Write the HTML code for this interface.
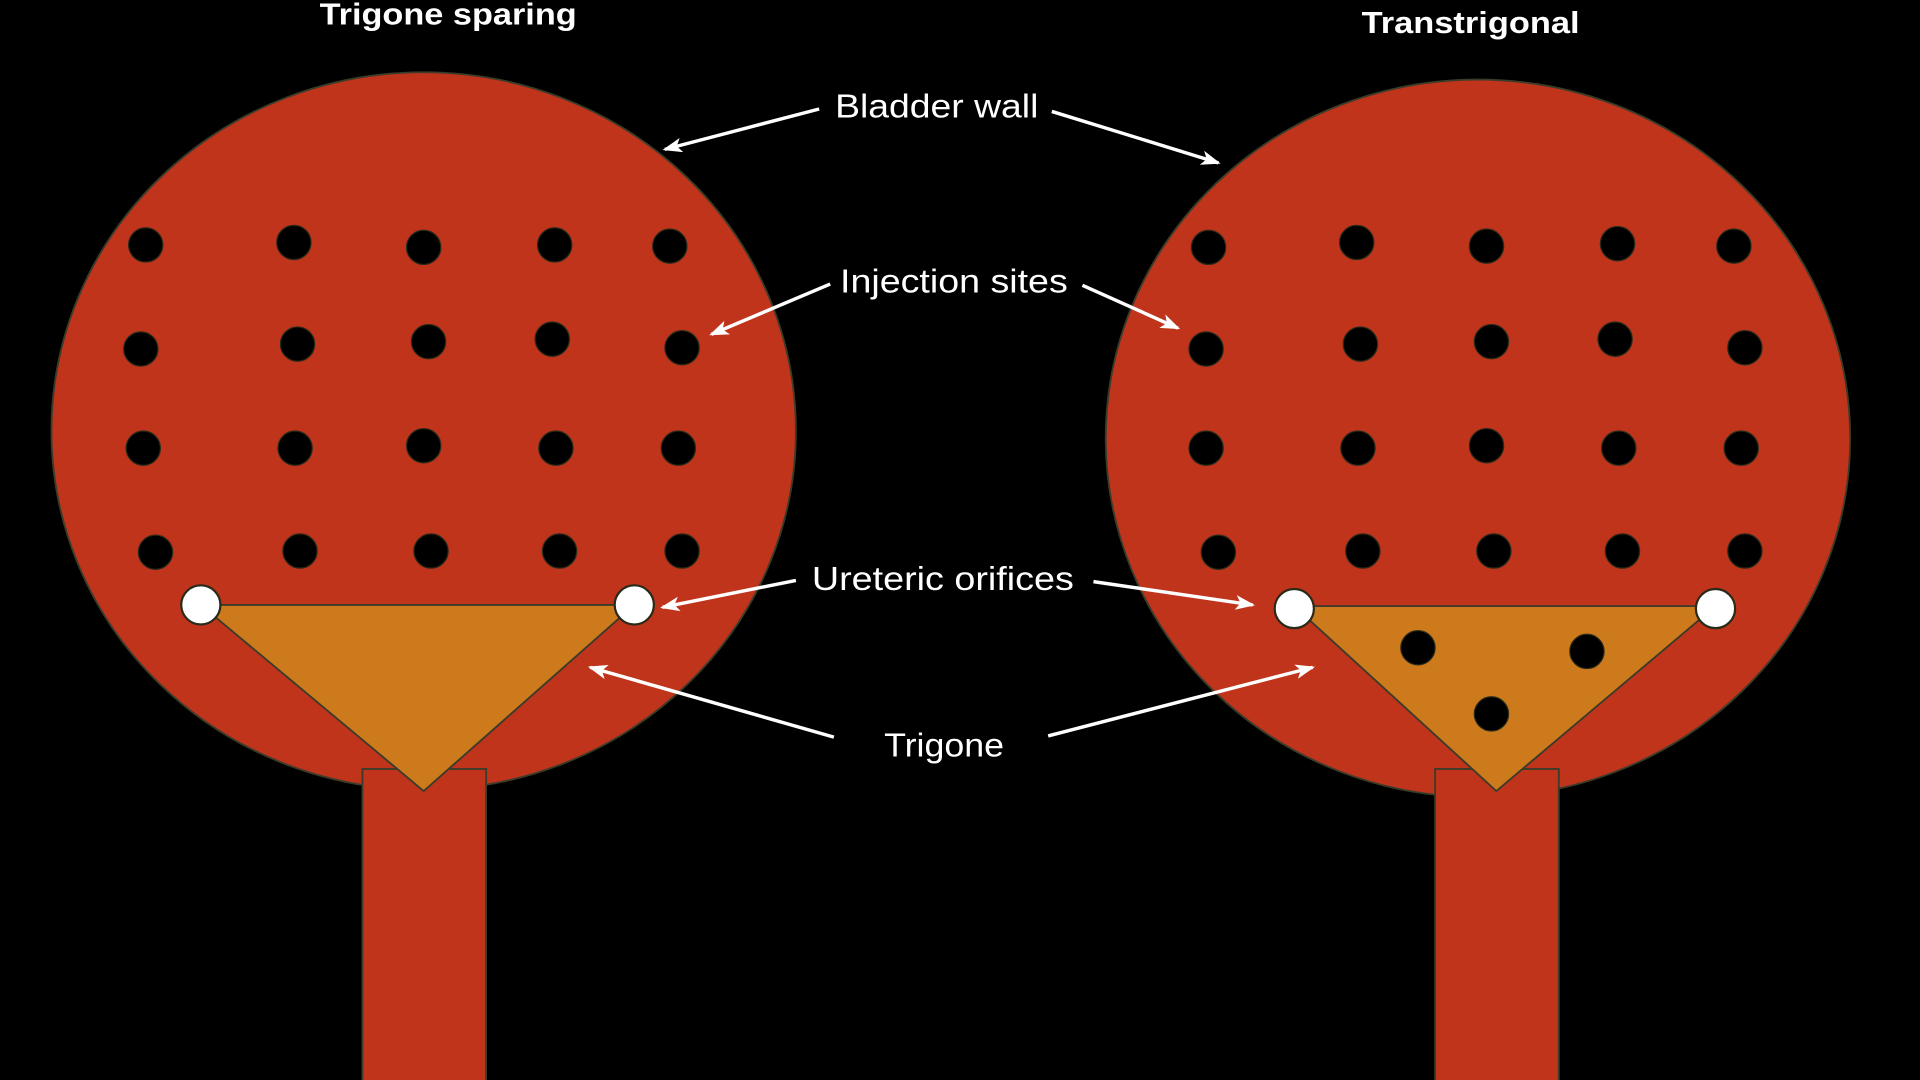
<!DOCTYPE html>
<html><head><meta charset="utf-8"><style>
html,body{margin:0;padding:0;background:#000;width:1920px;height:1080px;overflow:hidden}
svg{display:block}
text{font-family:"Liberation Sans",sans-serif;fill:#fff}
</style></head><body>
<svg width="1920" height="1080" viewBox="0 0 1568 882" xmlns="http://www.w3.org/2000/svg">
<defs>
<marker id="ah" markerWidth="16" markerHeight="12" refX="14" refY="6" orient="auto" markerUnits="userSpaceOnUse">
<path d="M0,0 L16,6 L0,12 L4,6 Z" fill="#fff"/>
</marker>
</defs>
<rect width="1568" height="882" fill="#000"/>
<g stroke="#3b3b2a" stroke-width="1.5">
<ellipse cx="346" cy="352" rx="304" ry="293" fill="#BF341B"/>
<ellipse cx="1207" cy="358" rx="304" ry="293" fill="#BF341B"/>
<rect x="296" y="628" width="101" height="260" fill="#BF341B"/>
<rect x="1172" y="628" width="101" height="260" fill="#BF341B"/>
<polygon points="164,494 518,494 346,646" fill="#CC7A1C"/>
<polygon points="1057,495 1401,495 1222,646" fill="#CC7A1C"/>
</g>
<g fill="#000" stroke="#2a2a1a" stroke-width="1">
<circle cx="119" cy="200" r="14"/><circle cx="240" cy="198" r="14"/><circle cx="346" cy="202" r="14"/><circle cx="453" cy="200" r="14"/><circle cx="547" cy="201" r="14"/>
<circle cx="115" cy="285" r="14"/><circle cx="243" cy="281" r="14"/><circle cx="350" cy="279" r="14"/><circle cx="451" cy="277" r="14"/><circle cx="557" cy="284" r="14"/>
<circle cx="117" cy="366" r="14"/><circle cx="241" cy="366" r="14"/><circle cx="346" cy="364" r="14"/><circle cx="454" cy="366" r="14"/><circle cx="554" cy="366" r="14"/>
<circle cx="127" cy="451" r="14"/><circle cx="245" cy="450" r="14"/><circle cx="352" cy="450" r="14"/><circle cx="457" cy="450" r="14"/><circle cx="557" cy="450" r="14"/>
<circle cx="987" cy="202" r="14"/><circle cx="1108" cy="198" r="14"/><circle cx="1214" cy="201" r="14"/><circle cx="1321" cy="199" r="14"/><circle cx="1416" cy="201" r="14"/>
<circle cx="985" cy="285" r="14"/><circle cx="1111" cy="281" r="14"/><circle cx="1218" cy="279" r="14"/><circle cx="1319" cy="277" r="14"/><circle cx="1425" cy="284" r="14"/>
<circle cx="985" cy="366" r="14"/><circle cx="1109" cy="366" r="14"/><circle cx="1214" cy="364" r="14"/><circle cx="1322" cy="366" r="14"/><circle cx="1422" cy="366" r="14"/>
<circle cx="995" cy="451" r="14"/><circle cx="1113" cy="450" r="14"/><circle cx="1220" cy="450" r="14"/><circle cx="1325" cy="450" r="14"/><circle cx="1425" cy="450" r="14"/>
<circle cx="1158" cy="529" r="14"/><circle cx="1296" cy="532" r="14"/><circle cx="1218" cy="583" r="14"/>
</g>
<g fill="#fff" stroke="#2a2a1a" stroke-width="1.8">
<circle cx="164" cy="494" r="16"/><circle cx="518" cy="494" r="16"/>
<circle cx="1057" cy="497" r="16"/><circle cx="1401" cy="497" r="16"/>
</g>
<g stroke="#fff" stroke-width="2.8" marker-end="url(#ah)">
<line x1="669" y1="89" x2="543" y2="122"/>
<line x1="859" y1="91" x2="995" y2="133"/>
<line x1="678" y1="232" x2="581" y2="273"/>
<line x1="884" y1="233" x2="962" y2="268"/>
<line x1="650" y1="474" x2="541" y2="496"/>
<line x1="893" y1="475" x2="1023" y2="494"/>
<line x1="681" y1="602" x2="482" y2="545"/>
<line x1="856" y1="601" x2="1072" y2="545"/>
</g>
<text x="366" y="20" font-size="25" font-weight="bold" text-anchor="middle" textLength="210" lengthAdjust="spacingAndGlyphs">Trigone sparing</text>
<text x="1201" y="27" font-size="25" font-weight="bold" text-anchor="middle" textLength="178" lengthAdjust="spacingAndGlyphs">Transtrigonal</text>
<g font-size="27" text-anchor="middle">
<text x="765" y="96" textLength="166" lengthAdjust="spacingAndGlyphs">Bladder wall</text>
<text x="779" y="239" textLength="186" lengthAdjust="spacingAndGlyphs">Injection sites</text>
<text x="770" y="482" textLength="214" lengthAdjust="spacingAndGlyphs">Ureteric orifices</text>
<text x="771" y="618" textLength="98" lengthAdjust="spacingAndGlyphs">Trigone</text>
</g>
</svg>
</body></html>
